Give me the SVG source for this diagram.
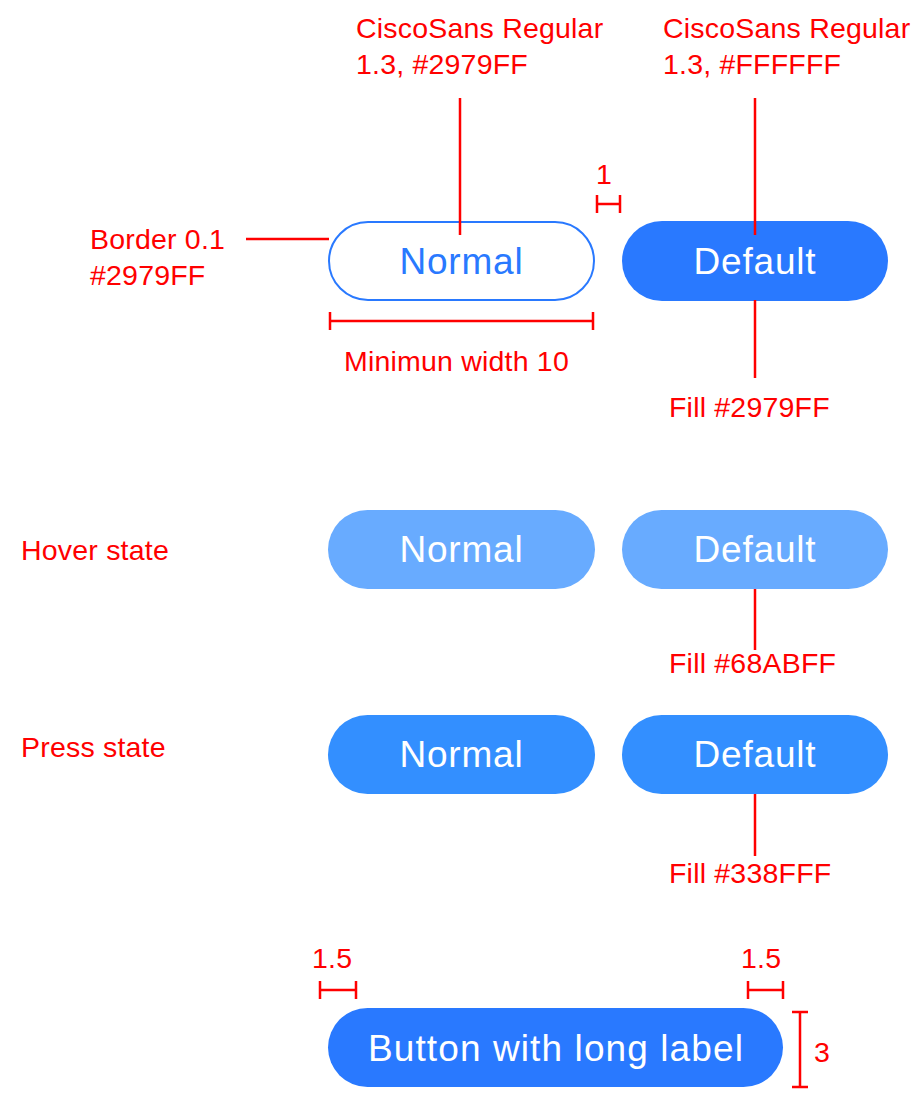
<svg xmlns="http://www.w3.org/2000/svg" width="923" height="1095" viewBox="0 0 923 1095">
<style>
.lbl{font-family:"Liberation Sans","Inter",Arial,sans-serif;font-size:28.5px;fill:#FF0000;letter-spacing:0.2px}
.btxt{font-family:"Liberation Sans","Inter",Arial,sans-serif;font-size:37px;fill:#FFFFFF;text-anchor:middle;letter-spacing:0.8px}
.ln{stroke:#FF0000;stroke-width:2.5;fill:none}
</style>
<rect width="923" height="1095" fill="#FFFFFF"/>
<g id="normal-btn">
<rect x="329" y="222" width="265" height="78" rx="39" fill="#FFFFFF" stroke="#2979FF" stroke-width="2"/>
<text x="461.5" y="274" class="btxt" style="fill:#2979FF">Normal</text>
</g>
<g id="default-btn">
<rect x="622" y="221" width="266" height="80" rx="40" fill="#2979FF"/>
<text x="755" y="274" class="btxt">Default</text>
</g>
<g id="hover-normal">
<rect x="328" y="510" width="267" height="79" rx="39.5" fill="#68ABFF"/>
<text x="461.5" y="562" class="btxt">Normal</text>
</g>
<g id="hover-default">
<rect x="622" y="510" width="266" height="79" rx="39.5" fill="#68ABFF"/>
<text x="755" y="562" class="btxt">Default</text>
</g>
<g id="press-normal">
<rect x="328" y="715" width="267" height="79" rx="39.5" fill="#338FFF"/>
<text x="461.5" y="767" class="btxt">Normal</text>
</g>
<g id="press-default">
<rect x="622" y="715" width="266" height="79" rx="39.5" fill="#338FFF"/>
<text x="755" y="767" class="btxt">Default</text>
</g>
<g id="long-btn">
<rect x="328" y="1008" width="455" height="79" rx="39.5" fill="#2979FF"/>
<text x="556" y="1061" class="btxt" style="letter-spacing:1.1px">Button with long label</text>
</g>
<g id="labels">
<text x="356" y="38" class="lbl">CiscoSans Regular</text>
<text x="356" y="74" class="lbl">1.3, #2979FF</text>
<text x="663" y="38" class="lbl">CiscoSans Regular</text>
<text x="663" y="74" class="lbl">1.3, #FFFFFF</text>
<text x="596" y="184" class="lbl">1</text>
<text x="90" y="249" class="lbl">Border 0.1</text>
<text x="90" y="285" class="lbl">#2979FF</text>
<text x="344" y="371" class="lbl">Minimun width 10</text>
<text x="669" y="417" class="lbl">Fill #2979FF</text>
<text x="21" y="560" class="lbl">Hover state</text>
<text x="669" y="673" class="lbl">Fill #68ABFF</text>
<text x="21" y="757" class="lbl">Press state</text>
<text x="669" y="883" class="lbl">Fill #338FFF</text>
<text x="312" y="968" class="lbl">1.5</text>
<text x="741" y="968" class="lbl">1.5</text>
<text x="814" y="1062" class="lbl">3</text>
</g>
<g id="connectors">
<path class="ln" d="M460 98V235"/>
<path class="ln" d="M755 98V235"/>
<path class="ln" d="M596 204H621M597 195V213M620 195V213"/>
<path class="ln" d="M246 239H329"/>
<path class="ln" d="M329 321H594M330 312V330M593 312V330"/>
<path class="ln" d="M755 300V378"/>
<path class="ln" d="M755 589V650"/>
<path class="ln" d="M755 794V856"/>
<path class="ln" d="M319 990H357M320 981V999M356 981V999"/>
<path class="ln" d="M747 990H784M748 981V999M783 981V999"/>
<path class="ln" d="M800 1011V1088M792 1012H808M792 1087H808"/>
</g>
</svg>
